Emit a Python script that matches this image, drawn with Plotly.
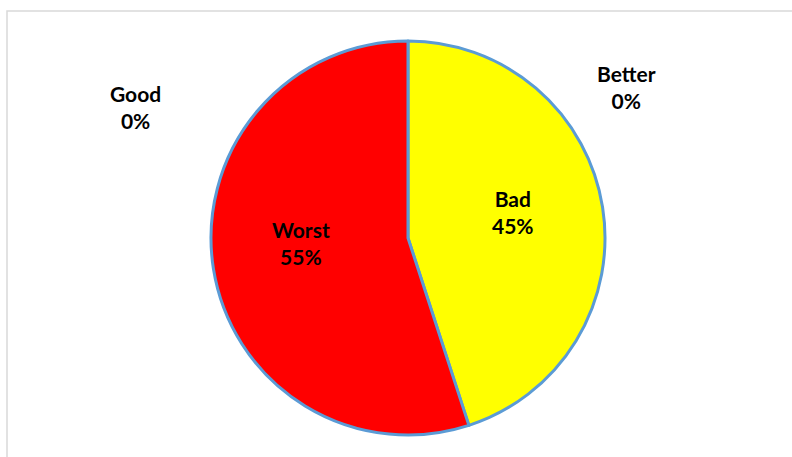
import plotly.graph_objects as go

labels = ["Bad", "Worst"]
values = [45, 55]
colors = ["#FFFF00", "#FF0000"]
zero_labels = ["Good", "Better"]
zero_values = [0, 0]

W, H = 792, 457
fig = go.Figure()
fig.add_trace(go.Pie(
    labels=labels, values=values, sort=False, direction="clockwise", rotation=0,
    marker=dict(colors=colors, line=dict(color="#5B9BD5", width=3)),
    textinfo="none",
    domain=dict(x=[211 / W, 605 / W], y=[1 - 435 / H, 1 - 41 / H]),
    showlegend=False, hoverinfo="label+percent",
))

total = sum(values) + sum(zero_values)
all_labels = labels + zero_labels
all_values = values + zero_values
label_pos = [(513, 212), (301, 243), (135, 107), (626, 87)]
for lab, v, (px, py) in zip(all_labels, all_values, label_pos):
    pct = round(100 * v / total)
    fig.add_annotation(x=px / W, y=1 - py / H, xref="paper", yref="paper",
                       xanchor="center", yanchor="middle",
                       text=f"<b>{lab}<br>{pct}%</b>", showarrow=False,
                       font=dict(family="Lato", size=21, color="#000000"))

fig.add_shape(type="rect", xref="paper", yref="paper",
              x0=7 / W, x1=1.02, y0=-0.02, y1=1 - 11 / H,
              line=dict(color="#D9D9D9", width=1.5), fillcolor="rgba(0,0,0,0)")

fig.update_layout(width=W, height=H, margin=dict(l=0, r=0, t=0, b=0),
                  paper_bgcolor="white", plot_bgcolor="white",
                  font=dict(family="Lato", size=21, color="#000000"))
fig.write_html("out.html")
